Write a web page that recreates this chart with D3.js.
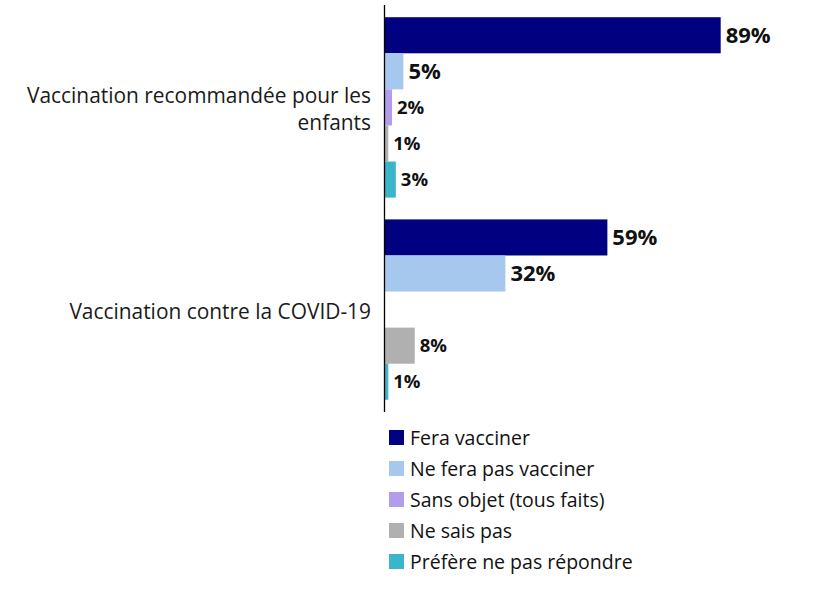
<!DOCTYPE html>
<html>
<head>
<meta charset="utf-8">
<script src="https://cdn.jsdelivr.net/npm/d3@7"></script>
<style>
  body { margin: 0; background: #fff; }
  svg { font-family: "Open Sans", "Noto Sans", sans-serif; }
  .cat { fill: #1a1a1a; font-size: 20.9px; }
  .val { font-weight: bold; fill: #111; }
  .legend text { fill: #111; font-size: 19.5px; }
</style>
</head>
<body>
<svg id="chart" width="829" height="607"></svg>
<script>
// data
const categories = ["Vaccination recommandée pour les enfants", "Vaccination contre la COVID-19"];
const series = ["Fera vacciner", "Ne fera pas vacciner", "Sans objet (tous faits)", "Ne sais pas", "Préfère ne pas répondre"];
const enfants = [89, 5, 2, 1, 3];
const covid = [59, 32, 0, 8, 1];
const colors = ["#000080", "#a7c8ee", "#b39deb", "#b0b0b0", "#3bb6c9"];

const values = [enfants, covid];

const svg = d3.select("#chart");
const axisX = 384.5;

const y0 = d3.scaleBand()
    .domain(categories)
    .range([5, 412])
    .paddingInner(22 / 204)
    .paddingOuter(11 / 204 / (1 - 22 / 204));

const y1 = d3.scaleBand()
    .domain(series)
    .range([0, y0.bandwidth()])
    .padding(0);

const x = d3.scaleLinear()
    .domain([0, 89])
    .range([axisX, 720.7]);

const rows = categories.map((c, i) => series.map((s, j) => ({cat: c, serie: s, idx: j, value: values[i][j]})));

const groups = svg.selectAll(".group")
    .data(rows)
    .join("g")
    .attr("class", "group")
    .attr("transform", (d, i) => `translate(0,${y0(categories[i])})`);

groups.selectAll("rect")
    .data(d => d.filter(e => e.value > 0))
    .join("rect")
    .attr("x", x(0))
    .attr("y", d => y1(d.serie))
    .attr("width", d => x(d.value) - x(0))
    .attr("height", y1.bandwidth())
    .style("fill", d => colors[d.idx]);

groups.selectAll(".val")
    .data(d => d.filter(e => e.value > 0))
    .join("text")
    .attr("class", "val")
    .attr("x", d => x(d.value) + 5)
    .attr("y", d => y1(d.serie) + y1.bandwidth() / 2)
    .attr("dy", "0.36em")
    .style("font-size", d => d.idx < 2 ? "22px" : "18.5px")
    .text(d => d.value + "%");

// axis line
svg.append("line")
    .attr("x1", axisX).attr("x2", axisX)
    .attr("y1", 5).attr("y2", 412)
    .attr("stroke", "#000")
    .attr("stroke-width", 1.3);

// category labels, wrapped
function wrap(text, width) {
    const words = text.split(" ");
    const lines = [];
    let line = [];
    const probe = svg.append("text").attr("class", "cat");
    words.forEach(w => {
        line.push(w);
        probe.text(line.join(" "));
        if (probe.node().getComputedTextLength() > width && line.length > 1) {
            line.pop();
            lines.push(line.join(" "));
            line = [w];
        }
    });
    lines.push(line.join(" "));
    probe.remove();
    return lines;
}

categories.forEach(c => {
    const lines = wrap(c, 360);
    const lh = 27;
    const cy = y0(c) + y0.bandwidth() / 2 + 2;
    const t = svg.append("text")
        .attr("class", "cat")
        .attr("text-anchor", "end");
    lines.forEach((l, k) => {
        t.append("tspan")
            .attr("x", 371)
            .attr("y", cy - (lines.length - 1) * lh / 2 + k * lh)
            .attr("dy", "0.35em")
            .text(l);
    });
});

// legend
const legend = svg.append("g").attr("class", "legend")
    .attr("transform", "translate(389,430)");

const item = legend.selectAll("g")
    .data(series)
    .join("g")
    .attr("transform", (d, i) => `translate(0,${i * 31})`);

item.append("rect")
    .attr("width", 15)
    .attr("height", 15)
    .style("fill", (d, i) => colors[i]);

item.append("text")
    .attr("x", 21)
    .attr("y", 7.5)
    .attr("dy", "0.36em")
    .text(d => d);
</script>
</body>
</html>
